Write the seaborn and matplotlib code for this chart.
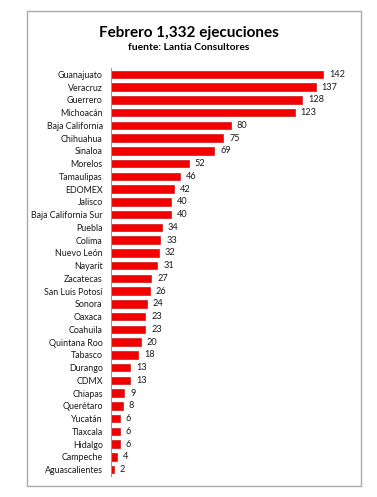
import matplotlib
matplotlib.use("Agg")
import matplotlib.pyplot as plt
import seaborn as sns
import pandas as pd
import numpy as np
from matplotlib.patches import Rectangle

estados = ["Guanajuato", "Veracruz", "Guerrero", "Michoacán", "Baja California", "Chihuahua",
           "Sinaloa", "Morelos", "Tamaulipas", "EDOMEX", "Jalisco", "Baja California Sur",
           "Puebla", "Colima", "Nuevo León", "Nayarit", "Zacatecas", "San Luis Potosí",
           "Sonora", "Oaxaca", "Coahuila", "Quintana Roo", "Tabasco", "Durango", "CDMX",
           "Chiapas", "Querétaro", "Yucatán", "Tlaxcala", "Hidalgo", "Campeche", "Aguascalientes"]
ejecuciones = [142, 137, 128, 123, 80, 75, 69, 52, 46, 42, 40, 40, 34, 33, 32, 31, 27, 26,
               24, 23, 23, 20, 18, 13, 13, 9, 8, 6, 6, 6, 4, 2]
titulo = "Febrero 1,332 ejecuciones"
subtitulo = "fuente: Lantia Consultores"

df = pd.DataFrame({"estado": estados, "n": ejecuciones})

sns.set_theme(style="white")
plt.rcParams['font.family'] = ['Lato', 'DejaVu Sans']

fig = plt.figure(figsize=(3.77, 4.97), dpi=100)
fig.patch.set_facecolor("white")
ax = fig.add_axes([111/377, 21/497, 239/377, 408/497])

sns.barplot(data=df, y="estado", x="n", orient="h", color="#f20000", saturation=1,
            width=0.6, ax=ax, edgecolor="#c00000", linewidth=0.4)

ax.set_xlim(0, 160)
ax.set_ylim(len(estados) - 0.5, -0.5)
for s in ["top", "right", "bottom"]:
    ax.spines[s].set_visible(False)
ax.spines["left"].set_color("#999999")
ax.spines["left"].set_linewidth(0.8)
ax.set_xticks([])
ax.set_xlabel("")
ax.set_ylabel("")
ax.tick_params(axis="y", which="major", length=0, labelsize=6.4, pad=6, labelcolor="#1a1a1a")
ax.set_yticks(np.arange(-0.5, len(estados), 1.0), minor=True)
ax.tick_params(axis="y", which="minor", length=3, width=0.6, color="#999999", direction="out")

for i, v in enumerate(ejecuciones):
    ax.text(v + 4, i, str(v), va="center", ha="left", fontsize=6.6, color="#1a1a1a")

fig.text(0.5, 1 - 33/497, titulo, ha="center", va="center", fontsize=11, fontweight="bold", color="black")
fig.text(0.5, 1 - 48/497, subtitulo, ha="center", va="center", fontsize=7.4, fontweight="bold", color="black")

fig.patches.append(Rectangle((27/377, 11/497), (361-27)/377, (486-11)/497, transform=fig.transFigure,
                             fill=False, edgecolor="#aaaaaa", linewidth=1))

fig.savefig("out.png", dpi=100, facecolor="white")
